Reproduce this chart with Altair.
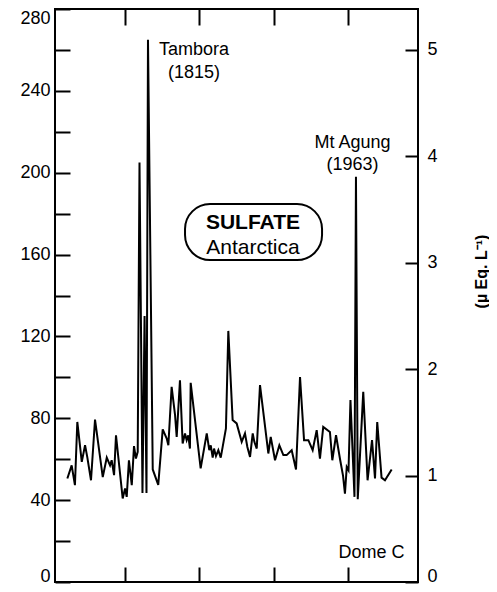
import altair as alt
import pandas as pd

# ---- data ----
years = [1761.3, 1764.2, 1766.4, 1768.0, 1771.0, 1773.2, 1774.7, 1777.2, 1779.9, 1785.1,
         1787.8, 1790.0, 1791.1, 1792.7, 1794.0, 1798.5, 1800.1, 1801.2, 1802.7, 1804.6,
         1806.1, 1807.4, 1808.6, 1809.8, 1811.8, 1813.2, 1814.5, 1815.5, 1818.7, 1822.4,
         1825.4, 1828.1, 1829.2, 1831.4, 1833.7, 1834.8, 1837.0, 1838.8, 1840.4, 1841.5,
         1842.6, 1843.7, 1844.2, 1850.9, 1855.0, 1856.7, 1857.7, 1859.0, 1859.9, 1861.2,
         1862.8, 1864.4, 1865.7, 1867.9, 1869.5, 1872.4, 1875.1, 1878.5, 1880.7, 1882.3,
         1884.1, 1885.9, 1887.0, 1888.6, 1890.8, 1896.4, 1898.0, 1900.9, 1903.8, 1906.5,
         1908.7, 1912.1, 1915.0, 1917.7, 1920.4, 1923.3, 1926.2, 1928.9, 1931.1, 1933.3,
         1937.8, 1939.4, 1941.9, 1944.6, 1946.6, 1947.9, 1949.1, 1950.3, 1951.6, 1954.3,
         1955.3, 1956.5, 1960.2, 1963.1, 1966.1, 1968.1, 1969.6, 1972.5, 1974.8, 1979.3]
sulfate = [50.6, 57, 47.3, 78.2, 58.7, 66.8, 61, 49.7, 79.4, 51.3,
           60.8, 57, 59.5, 52.2, 71.7, 40.8, 45.7, 41.6, 59.5, 47.3,
           66.4, 60.3, 63.6, 205, 43.5, 130, 43.5, 265, 55, 47.5,
           74.6, 70.1, 66.8, 95.4, 81.5, 70.9, 98.6, 67.7, 72.6, 69.3,
           71.7, 65.2, 97.3, 55.5, 72.6, 64.4, 66.8, 60.8, 65.2, 61.5,
           64.4, 60.8, 66.0, 75, 122.7, 79.1, 77.5, 68.5, 72.6, 66,
           61.1, 72.6, 68.5, 65.2, 96.2, 62.8, 70.9, 59.5, 66.8, 62,
           62, 64.4, 55, 100.2, 69.3, 69.3, 64.4, 74.2, 60.3, 75.8,
           73.3, 59.5, 71.7, 60, 52, 43.2, 56.2, 54.6, 88.9, 41.6,
           198, 40.5, 92.9, 49.7, 69.3, 50.6, 78.2, 51, 49.7, 55]

left_ticks = [0, 20, 40, 60, 80, 100, 120, 140, 160, 180, 200, 220, 240, 260, 280]
right_ticks = [0, 1, 2, 3, 4, 5]
x_ticks = [1800, 1850, 1900, 1950]
x_domain = [1753, 1997]
y_domain = [0, 280]
ueq_factor = 52  # left units per µEq/L

ann_labels = ["Tambora", "(1815)", "Mt Agung", "(1963)"]
ann_years = [1846.4, 1846.4, 1953.0, 1953.0]
ann_values = [260.0, 248.8, 214.5, 203.8]

site_label = ["Dome C"]
site_year = [1965.7]
site_value = [14.0]

box_x = [1840.4]
box_x2 = [1932.5]
box_y = [157.3]
box_y2 = [184.7]
box_title = ["SULFATE"]
box_sub = ["Antarctica"]
box_text_year = [1886.1]
box_title_value = [175.4]
box_sub_value = [163.2]

FONT = "Liberation Sans"

df = pd.DataFrame({"year": years, "sulfate": sulfate})
ann_df = pd.DataFrame({"label": ann_labels, "year": ann_years, "value": ann_values})
site_df = pd.DataFrame({"label": site_label, "year": site_year, "value": site_value})
box_df = pd.DataFrame({"x": box_x, "x2": box_x2, "y": box_y, "y2": box_y2})
title_df = pd.DataFrame({"label": box_title, "year": box_text_year, "value": box_title_value})
sub_df = pd.DataFrame({"label": box_sub, "year": box_text_year, "value": box_sub_value})

xs = alt.Scale(domain=x_domain, nice=False, zero=False)
ys = alt.Scale(domain=y_domain, nice=False)

zero_shift = {"condition": {"test": "datum.value == 0", "value": 3}, "value": 0}

line = alt.Chart(df).mark_line(color="black", strokeWidth=2).encode(
    x=alt.X("year:Q", scale=xs, axis=alt.Axis(
        orient="bottom", values=x_ticks, labels=False, domain=False, grid=False,
        tickSize=15, offset=-15, tickWidth=2, tickColor="black", title=None)),
    y=alt.Y("sulfate:Q", scale=ys, axis=alt.Axis(
        orient="left", values=left_ticks,
        labelExpr="datum.value % 40 == 0 ? datum.label : ''",
        labelFlush=True, labelOffset=zero_shift,
        domain=False, grid=False, tickSize=15, offset=-15, tickWidth=2, tickColor="black",
        labelPadding=5, labelFontSize=18, labelFont=FONT, labelColor="black", title=None)),
)

box = alt.Chart(box_df).mark_rect(fill="white", stroke="black", strokeWidth=2, cornerRadius=25).encode(
    x=alt.X("x:Q", scale=xs, axis=None), x2="x2:Q",
    y=alt.Y("y:Q", scale=ys, axis=None), y2="y2:Q",
)

ann = alt.Chart(ann_df).mark_text(font=FONT, fontSize=18, color="black", align="center", baseline="middle").encode(
    x=alt.X("year:Q", scale=xs, axis=None),
    y=alt.Y("value:Q", scale=ys, axis=None),
    text="label:N",
)

site = alt.Chart(site_df).mark_text(font=FONT, fontSize=18, color="black", align="center", baseline="middle").encode(
    x=alt.X("year:Q", scale=xs, axis=None),
    y=alt.Y("value:Q", scale=ys, axis=None),
    text="label:N",
)

btitle = alt.Chart(title_df).mark_text(font=FONT, fontSize=21, fontWeight="bold", color="black", align="center", baseline="middle").encode(
    x=alt.X("year:Q", scale=xs, axis=None),
    y=alt.Y("value:Q", scale=ys, axis=None),
    text="label:N",
)

bsub = alt.Chart(sub_df).mark_text(font=FONT, fontSize=21, color="black", align="center", baseline="middle").encode(
    x=alt.X("year:Q", scale=xs, axis=None),
    y=alt.Y("value:Q", scale=ys, axis=None),
    text="label:N",
)

main = alt.layer(line, box, ann, site, btitle, bsub).resolve_axis(x="independent", y="independent")

right = alt.Chart(df).transform_calculate(
    ueq=f"datum.sulfate / {ueq_factor}"
).mark_line(opacity=0).encode(
    x=alt.X("year:Q", scale=xs, axis=alt.Axis(
        orient="top", values=x_ticks, labels=False, domain=False, grid=False,
        tickSize=16, offset=-16, tickWidth=2, tickColor="black", title=None)),
    y=alt.Y("ueq:Q", scale=alt.Scale(domain=[0, y_domain[1] / ueq_factor], nice=False), axis=alt.Axis(
        orient="right", values=right_ticks, format="d", domain=False, grid=False,
        labelFlush=True, labelFlushOffset=3,
        tickSize=13, offset=-13, tickWidth=2, tickColor="black",
        labelPadding=9, labelFontSize=18, labelFont=FONT, labelColor="black",
        title="(µ Eq. L⁻¹)", titleAngle=270, titleX=76, titleY=262,
        titleAlign="center", titleBaseline="middle",
        titleFont=FONT, titleFontSize=16, titleFontWeight="bold", titleColor="black")),
)

chart = alt.layer(main, right).resolve_scale(y="independent").resolve_axis(
    x="independent", y="independent"
).properties(
    width=363, height=573,
    padding={"left": 47, "top": 1, "right": 71, "bottom": 2},
    autosize=alt.AutoSizeParams(type="none"),
    background="white",
).configure_view(stroke="black", strokeWidth=2)

chart.save("out.html", embed_options={"renderer": "svg", "actions": False})
